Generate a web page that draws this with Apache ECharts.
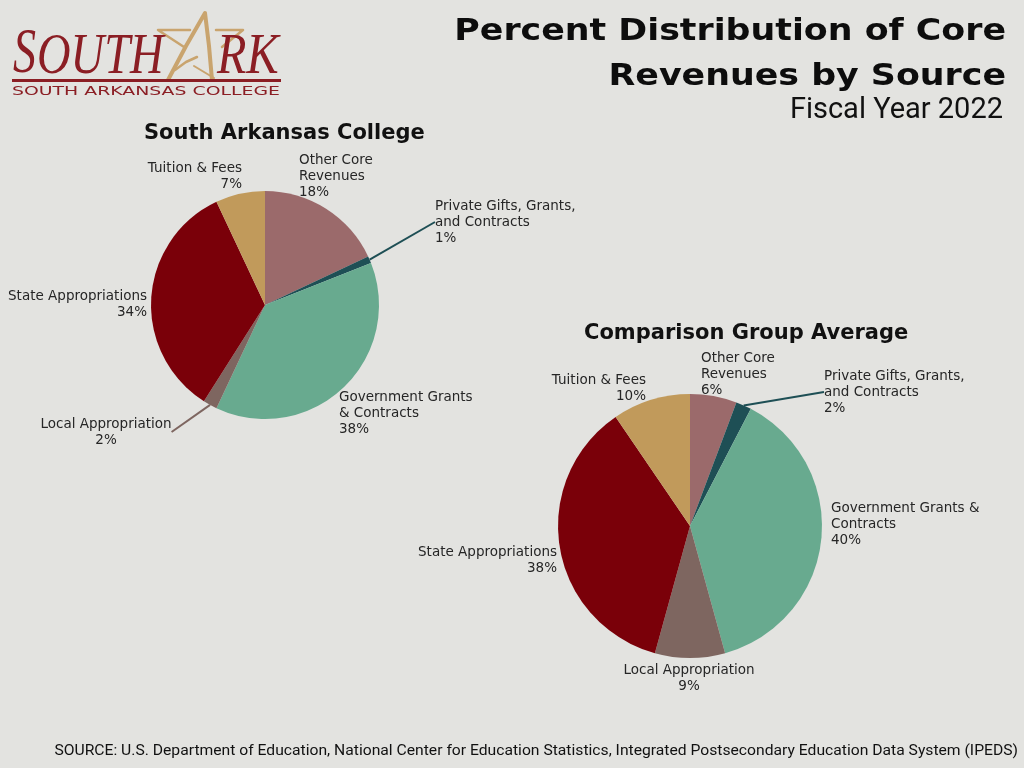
<!DOCTYPE html>
<html><head><meta charset="utf-8">
<script src="https://cdn.jsdelivr.net/npm/echarts@6/dist/echarts.min.js"></script>
<style>html,body{margin:0;padding:0;background:#E3E3E0;} #c{width:1024px;height:768px;}</style>
</head><body><div id="c"></div>
<script>
// ---- data ----
const categories = ['Other Core Revenues', 'Private Gifts, Grants, and Contracts', 'Government Grants & Contracts', 'Local Appropriation', 'State Appropriations', 'Tuition & Fees'];
const southArkValues = [18, 1, 38, 2, 34, 7];
const comparisonValues = [6, 2, 40, 9, 38, 10];
const southArkLabels = ['Other Core\nRevenues', 'Private Gifts, Grants,\nand Contracts', 'Government Grants\n& Contracts', 'Local Appropriation', 'State Appropriations', 'Tuition & Fees'];
const comparisonLabels = ['Other Core\nRevenues', 'Private Gifts, Grants,\nand Contracts', 'Government Grants &\nContracts', 'Local Appropriation', 'State Appropriations', 'Tuition & Fees'];
const mainTitle = ['Percent Distribution of Core', 'Revenues by Source'];
const subTitle = 'Fiscal Year 2022';
const pieTitles = ['South Arkansas College', 'Comparison Group Average'];
const sourceText = 'SOURCE: U.S. Department of Education, National Center for Education Statistics, Integrated Postsecondary Education Data System (IPEDS)';

// ---- styles / layout ----
const sliceColors = ['#9B6A6B', '#1E4F55', '#68AA8F', '#7E6660', '#7A0009', '#C19A5B'];
const leader1 = [false, true, false, true, false, false];
const leader2 = [false, true, false, false, false, false];
const labelPos1 = [[299, 176, 'left'], [435, 222, 'left'], [339, 413, 'left'], [106, 432, 'center'], [147, 304, 'right'], [242, 176, 'right']];
const labelPos2 = [[701, 374, 'left'], [824, 392, 'left'], [831, 524, 'left'], [689, 678, 'center'], [557, 560, 'right'], [646, 388, 'right']];
const logoRed = '#8B1E24';
const logoTan = '#C9A46E';

function pieSeries(values, labels, leaders, pos, center, radius) {
  return {
    type: 'pie',
    center: center,
    radius: radius,
    startAngle: 90,
    clockwise: true,
    avoidLabelOverlap: false,
    silent: true,
    emphasis: { disabled: true },
    data: categories.map((n, i) => ({
      name: n, value: values[i],
      itemStyle: { color: sliceColors[i] },
      labelLine: { show: leaders[i] }
    })),
    label: {
      show: true, position: 'outside',
      formatter: p => labels[p.dataIndex] + '\n' + p.value + '%',
      fontFamily: 'DejaVu Sans', fontSize: 13.5, lineHeight: 16, color: '#262626'
    },
    labelLine: { show: true, length: 4, length2: 0, smooth: false, lineStyle: { width: 2 } },
    labelLayout: p => ({ x: pos[p.dataIndex][0], y: pos[p.dataIndex][1], align: pos[p.dataIndex][2], verticalAlign: 'middle' })
  };
}

const tanLine = (pts, w) => ({ type: 'polyline', shape: { points: pts }, style: { fill: null, stroke: logoTan, lineWidth: w, lineCap: 'round', lineJoin: 'round' }, z: 1, silent: true });

const chart = echarts.init(document.getElementById('c'), null, { renderer: 'canvas' });
chart.setOption({
  backgroundColor: '#E3E3E0',
  animation: false,
  title: [
    { text: pieTitles[0], left: 144, top: 122, padding: 0, textStyle: { fontFamily: 'DejaVu Sans', fontWeight: 'bold', fontSize: 21, lineHeight: 24, color: '#111' } },
    { text: pieTitles[1], left: 584, top: 322, padding: 0, textStyle: { fontFamily: 'DejaVu Sans', fontWeight: 'bold', fontSize: 21, lineHeight: 24, color: '#111' } }
  ],
  graphic: [
    // logo star / A
    tanLine([[190, 30], [158, 30], [184, 47]], 2.5),
    tanLine([[216, 30], [243, 30], [222, 47]], 2.5),
    tanLine([[168, 80], [186, 46], [205, 13], [209, 46], [212, 80]], 4),
    tanLine([[175, 70], [186, 62], [197, 57]], 2.5),
    tanLine([[194, 66], [214, 78]], 2),
    { type: 'text', x: 13, y: 55, scaleX: 0.72, style: { text: 'S', font: 'italic 64px "Liberation Serif"', fill: logoRed, align: 'left', verticalAlign: 'middle' }, z: 2 },
    { type: 'text', x: 37, y: 58, scaleX: 0.83, style: { text: 'OUTH', font: 'italic 56px "Liberation Serif"', fill: logoRed, align: 'left', verticalAlign: 'middle' }, z: 2 },
    { type: 'text', x: 217, y: 58, scaleX: 0.86, style: { text: 'RK', font: 'italic 56px "Liberation Serif"', fill: logoRed, align: 'left', verticalAlign: 'middle' }, z: 2 },
    { type: 'rect', shape: { x: 12, y: 79, width: 269, height: 3 }, style: { fill: logoRed }, z: 3, silent: true },
    { type: 'text', x: 12, y: 92, scaleX: 1.45, style: { text: 'SOUTH ARKANSAS COLLEGE', font: '13px "DejaVu Sans"', fill: logoRed, align: 'left', verticalAlign: 'middle' }, z: 2 },
    // titles
    { type: 'text', x: 1006, y: 32, scaleX: 1.16, style: { text: mainTitle[0], font: 'bold 30px "DejaVu Sans"', fill: '#0d0d0d', align: 'right', verticalAlign: 'middle' } },
    { type: 'text', x: 1006, y: 77, scaleX: 1.16, style: { text: mainTitle[1], font: 'bold 30px "DejaVu Sans"', fill: '#0d0d0d', align: 'right', verticalAlign: 'middle' } },
    { type: 'text', x: 1003, y: 111, style: { text: subTitle, font: '29px Roboto', fill: '#111', align: 'right', verticalAlign: 'middle' } },
    { type: 'text', x: 1018, y: 751, scaleX: 1.12, style: { text: sourceText, font: '14px Roboto', fill: '#111', align: 'right', verticalAlign: 'middle' } }
  ],
  series: [
    pieSeries(southArkValues, southArkLabels, leader1, labelPos1, [265, 305], 114),
    pieSeries(comparisonValues, comparisonLabels, leader2, labelPos2, [690, 526], 132)
  ]
});
</script>
</body></html>
